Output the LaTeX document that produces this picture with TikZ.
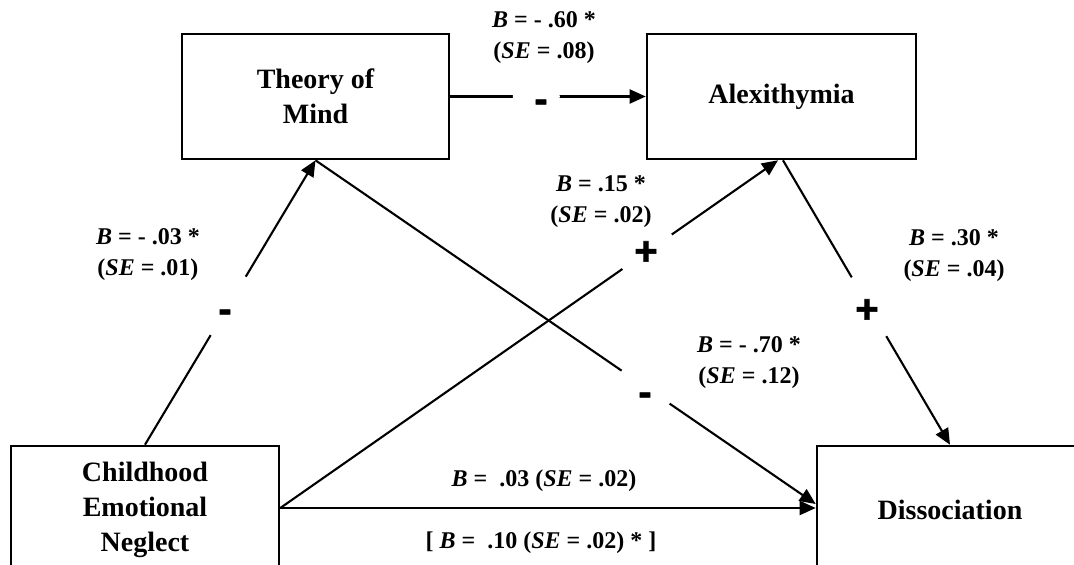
\documentclass[tikz,border=0pt]{standalone}
\usepackage{fontspec}
\setmainfont{Liberation Serif}
\newfontfamily\signfont[FakeBold=1.5]{Liberation Sans Bold}
\usetikzlibrary{arrows.meta}
\begin{document}
\begin{tikzpicture}[x=1pt,y=-1pt,
  box/.style={draw, line width=2.6pt, inner sep=0pt, font=\fontsize{28}{35}\selectfont\bfseries, align=center},
  arr/.style={line width=2.1pt, -{Triangle[length=16pt,width=14pt]}},
  cut/.style={circle, fill=white, inner sep=0pt, minimum size=#1},
  lab/.style={font=\fontsize{24}{31}\selectfont\bfseries, align=center, inner sep=0pt},
  sign/.style={font=\signfont\fontsize{40}{40}\selectfont, inner sep=0pt}]
\useasboundingbox (0,0) rectangle (1074,565);
\clip (0,0) rectangle (1074,565);
\fill[white] (0,0) rectangle (1074,565);

% boxes
\node[box, minimum width=267pt, minimum height=125pt] (tom) at (315.5,96.5) {Theory of\\Mind};
\node[box, minimum width=269pt, minimum height=125pt] (alx) at (781.5,96.5) {Alexithymia};
\node[box, minimum width=268pt, minimum height=128pt] (cen) at (145,510) {Childhood\\Emotional\\Neglect};
\node[box, minimum width=266pt, minimum height=128pt] (dis) at (950,510) {Dissociation};

% connectors
\draw[arr] (cen.north) -- node[cut=68pt, pos=.488]{} (tom.south);
\draw[arr] (tom.east) -- node[cut=47pt, pos=.44]{} (alx.west);
\draw[arr] (tom.south) -- node[cut=58pt, pos=.66]{} ([yshift=6pt]dis.west);
\draw[arr] ([yshift=2pt]cen.east) -- node[cut=60pt, pos=.737]{} ([xshift=-3.5pt]alx.south);
\draw[arr] ([xshift=1.5pt]alx.south) -- node[cut=68pt, pos=.515]{} (dis.north);
\draw[arr] ([yshift=2pt]cen.east) -- ([yshift=2pt]dis.west);

% signs
\node[sign] (s1) at (225,316) {-};
\node[sign] (s2) at (541,106) {-};
\node[sign] (s3) at (645,399) {-};
\node[sign] (s4) at (646,253) {+};
\node[sign] (s5) at (867,311) {+};

% labels
\node[lab] (l1) at (544,38) {{\itshape B} = - .60 *\\({\itshape SE} = .08)};
\node[lab] (l2) at (148,255) {{\itshape B} = - .03 *\\({\itshape SE} = .01)};
\node[lab] (l3) at (601,202) {{\itshape B} = .15 *\\({\itshape SE} = .02)};
\node[lab] (l4) at (954,256) {{\itshape B} = .30 *\\({\itshape SE} = .04)};
\node[lab] (l5) at (749,363) {{\itshape B} = - .70 *\\({\itshape SE} = .12)};
\node[lab] (l6) at (544,481) {{\itshape B} =~ .03 ({\itshape SE} = .02)};
\node[lab] (l7) at (541,543) {[ {\itshape B} =~ .10 ({\itshape SE} = .02) * ]};
\end{tikzpicture}
\end{document}
